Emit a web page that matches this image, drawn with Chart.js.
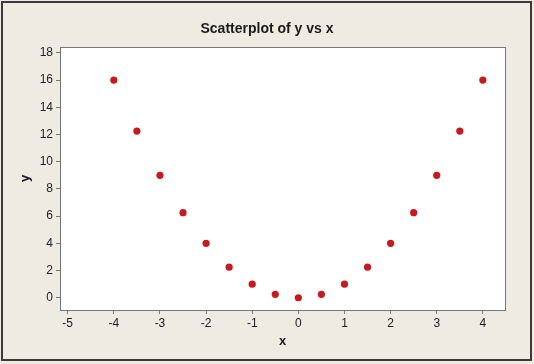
<!DOCTYPE html>
<html>
<head>
<meta charset="utf-8">
<script src="https://cdn.jsdelivr.net/npm/chart.js@4/dist/chart.umd.min.js"></script>
<style>
  html, body { margin: 0; padding: 0; background: #eeebe2; overflow: hidden; }
  canvas { display: block; }
</style>
</head>
<body>
<canvas id="scatter" width="534" height="364"></canvas>
<script>
// values
const xValues = [-4, -3.5, -3, -2.5, -2, -1.5, -1, -0.5, 0, 0.5, 1, 1.5, 2, 2.5, 3, 3.5, 4];
const yValues = [16, 12.25, 9, 6.25, 4, 2.25, 1, 0.25, 0, 0.25, 1, 2.25, 4, 6.25, 9, 12.25, 16];
const xTicks = [-5, -4, -3, -2, -1, 0, 1, 2, 3, 4];
const yTicks = [0, 2, 4, 6, 8, 10, 12, 14, 16, 18];
const chartTitle = "Scatterplot of y vs x";

const FONT = "'Liberation Sans', Arial, sans-serif";

// background, plot frame, outer border and the title (centred on the whole canvas)
const framePlugin = {
  id: "frame",
  beforeDraw(chart) {
    const { ctx, chartArea: a, width, height } = chart;
    ctx.save();
    ctx.fillStyle = "#eeebe2";
    ctx.fillRect(0, 0, width, height);
    ctx.fillStyle = "#ffffff";
    ctx.fillRect(a.left, a.top, a.right - a.left, a.bottom - a.top);
    ctx.restore();
  },
  afterDraw(chart) {
    const { ctx, chartArea: a, width } = chart;
    ctx.save();
    ctx.strokeStyle = "#777777";
    ctx.lineWidth = 1;
    ctx.strokeRect(a.left + 0.5, a.top + 0.5, a.right - a.left, a.bottom - a.top);
    ctx.strokeStyle = "#3a3a3a";
    ctx.lineWidth = 2;
    ctx.strokeRect(2, 2, 529, 358);
    ctx.fillStyle = "#1a1a1a";
    ctx.font = "bold 14px " + FONT;
    ctx.textAlign = "center";
    ctx.textBaseline = "middle";
    ctx.fillText(chartTitle, width / 2, 29);
    ctx.restore();
  },
};

new Chart(document.getElementById("scatter"), {
  type: "scatter",
  data: {
    datasets: [{
      data: xValues.map((x, i) => ({ x, y: yValues[i] })),
      backgroundColor: "#c81a1e",
      borderWidth: 0,
      pointRadius: 3.6,
    }],
  },
  options: {
    responsive: false,
    animation: false,
    devicePixelRatio: 1,
    layout: { padding: { left: 0, top: 47, right: 29, bottom: 0 } },
    plugins: {
      legend: { display: false },
      tooltip: { enabled: false },
      title: { display: false },
    },
    scales: {
      x: {
        type: "linear",
        min: -5.167,
        max: 4.48,
        afterFit: (s) => { s.height = 54; },
        afterBuildTicks: (s) => { s.ticks = xTicks.map((v) => ({ value: v })); },
        grid: { drawOnChartArea: false, tickLength: 4, tickColor: "#777777" },
        border: { display: true, color: "#777777", width: 1 },
        ticks: { color: "#222", padding: 2, font: { family: FONT, size: 12 }, maxRotation: 0 },
        title: {
          display: true,
          text: "x",
          color: "#1a1a1a",
          font: { family: FONT, size: 13, weight: "bold", lineHeight: 1.2 },
          padding: { top: 0, bottom: 15 },
        },
      },
      y: {
        type: "linear",
        min: -0.9,
        max: 18.43,
        afterFit: (s) => { s.width = 60; },
        afterBuildTicks: (s) => { s.ticks = yTicks.map((v) => ({ value: v })); },
        grid: { drawOnChartArea: false, tickLength: 4, tickColor: "#777777" },
        border: { display: true, color: "#777777", width: 1 },
        ticks: { color: "#222", padding: 3, font: { family: FONT, size: 12 } },
        title: {
          display: true,
          text: "y",
          color: "#1a1a1a",
          font: { family: FONT, size: 13, weight: "bold", lineHeight: 1.2 },
          padding: { top: 18, bottom: 0 },
        },
      },
    },
  },
  plugins: [framePlugin],
});
</script>
</body>
</html>
